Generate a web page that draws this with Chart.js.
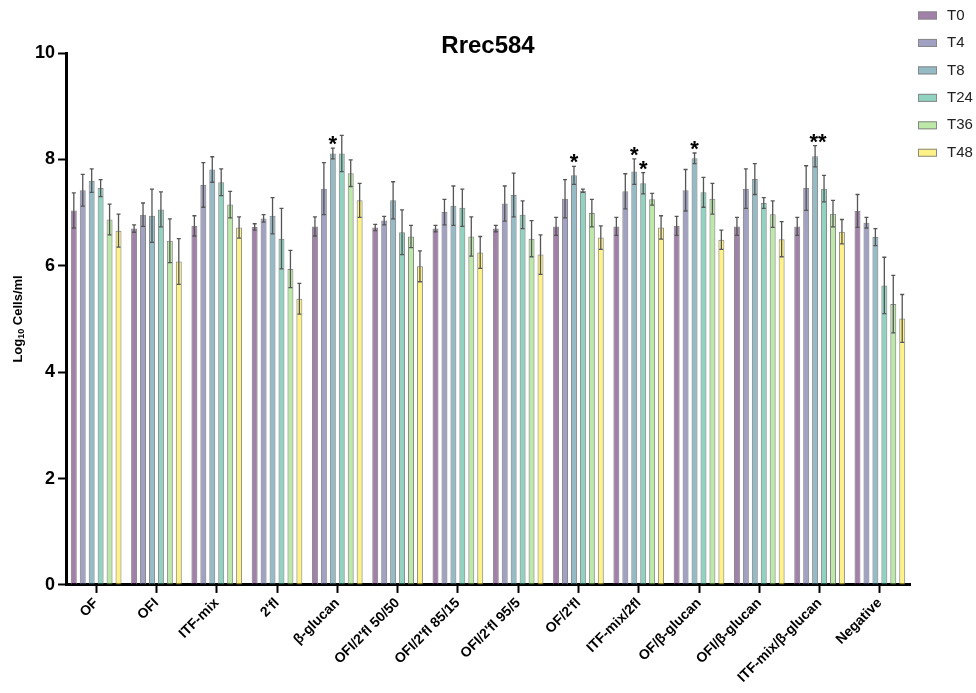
<!DOCTYPE html>
<html>
<head>
<meta charset="utf-8">
<script src="https://cdn.jsdelivr.net/npm/chart.js@4/dist/chart.umd.min.js"></script>
<style>
    body { margin: 0; background: #fff; }
    #wrap { width: 976px; height: 693px; }
</style>
</head>
<body>
<div id="wrap"><canvas id="chart" width="976" height="693"></canvas></div>
<script>
// groups on the x axis
const categories = ['OF', 'OFI', 'ITF-mix', "2'fl", 'β-glucan', "OFI/2'fl 50/50", "OFI/2'fl 85/15",
    "OFI/2'fl 95/5", "OF/2'fl", 'ITF-mix/2fl', 'OF/β-glucan', 'OFI/β-glucan', 'ITF-mix/β-glucan', 'Negative'];

const seriesNames = ['T0', 'T4', 'T8', 'T24', 'T36', 'T48'];

// means (log10 cells/ml)
const t0 = [7.04, 6.70, 6.75, 6.73, 6.74, 6.72, 6.70, 6.70, 6.74, 6.74, 6.75, 6.74, 6.74, 7.03];
const t4 = [7.42, 6.96, 7.52, 6.89, 7.45, 6.85, 7.01, 7.17, 7.26, 7.40, 7.42, 7.45, 7.46, 6.81];
const t8 = [7.60, 6.94, 7.81, 6.94, 8.11, 7.23, 7.13, 7.33, 7.70, 7.77, 8.02, 7.63, 8.06, 6.54];
const t24 = [7.46, 7.06, 7.57, 6.51, 8.11, 6.63, 7.09, 6.96, 7.41, 7.55, 7.38, 7.18, 7.45, 5.63];
const t36 = [6.87, 6.47, 7.15, 5.94, 7.74, 6.55, 6.55, 6.51, 6.99, 7.25, 7.26, 6.97, 6.98, 5.28];
const t48 = [6.66, 6.08, 6.72, 5.38, 7.23, 5.99, 6.25, 6.21, 6.53, 6.72, 6.49, 6.50, 6.64, 5.01];

// error bars (+/-)
const t0Err = [0.33, 0.07, 0.19, 0.06, 0.18, 0.06, 0.06, 0.06, 0.17, 0.17, 0.18, 0.17, 0.17, 0.31];
const t4Err = [0.30, 0.22, 0.42, 0.07, 0.49, 0.08, 0.24, 0.33, 0.36, 0.33, 0.39, 0.37, 0.42, 0.10];
const t8Err = [0.22, 0.50, 0.24, 0.34, 0.10, 0.35, 0.37, 0.41, 0.17, 0.24, 0.10, 0.29, 0.20, 0.16];
const t24Err = [0.16, 0.33, 0.25, 0.57, 0.34, 0.42, 0.35, 0.26, 0.03, 0.20, 0.28, 0.10, 0.25, 0.53];
const t36Err = [0.29, 0.41, 0.25, 0.35, 0.25, 0.21, 0.37, 0.34, 0.26, 0.11, 0.29, 0.25, 0.25, 0.54];
const t48Err = [0.31, 0.43, 0.20, 0.29, 0.32, 0.29, 0.30, 0.37, 0.22, 0.22, 0.18, 0.33, 0.23, 0.45];

// significance marks: [group index, series index, text]
const stars = [[4, 2, '*'], [8, 2, '*'], [9, 2, '*'], [9, 3, '*'], [10, 2, '*'], [12, 2, '**']];

const yTicks = [0, 2, 4, 6, 8, 10];

const means = [t0, t4, t8, t24, t36, t48];
const errs = [t0Err, t4Err, t8Err, t24Err, t36Err, t48Err];
const colors = ['rgba(68,1,84,0.5)', 'rgba(65,68,135,0.5)', 'rgba(42,120,142,0.5)',
    'rgba(34,168,132,0.5)', 'rgba(122,209,81,0.5)', 'rgba(253,231,37,0.55)'];

const FONT = 'Arial, "Liberation Sans", sans-serif';

const errorBars = {
    id: 'errorBars',
    afterDatasetsDraw(chart) {
        const ctx = chart.ctx;
        const y = chart.scales.y;
        ctx.save();
        ctx.strokeStyle = '#555';
        ctx.lineWidth = 1.3;
        chart.data.datasets.forEach((ds, i) => {
            chart.getDatasetMeta(i).data.forEach((bar, j) => {
                const v = ds.data[j], e = errs[i][j];
                const top = y.getPixelForValue(v + e), bot = y.getPixelForValue(v - e);
                ctx.beginPath();
                ctx.moveTo(bar.x, top); ctx.lineTo(bar.x, bot);
                ctx.moveTo(bar.x - 2, top); ctx.lineTo(bar.x + 2, top);
                ctx.moveTo(bar.x - 2, bot); ctx.lineTo(bar.x + 2, bot);
                ctx.stroke();
            });
        });
        // stars
        ctx.fillStyle = '#000';
        ctx.font = 'bold 22px ' + FONT;
        ctx.textAlign = 'center';
        ctx.textBaseline = 'alphabetic';
        stars.forEach(s => {
            const bar = chart.getDatasetMeta(s[1]).data[s[0]];
            const top = y.getPixelForValue(means[s[1]][s[0]] + errs[s[1]][s[0]]);
            const dx = s[2].length > 1 ? 3 : 0;
            ctx.fillText(s[2], bar.x + dx, top + 3);
        });
        ctx.restore();
    }
};

const decorations = {
    id: 'decorations',
    afterDraw(chart) {
        const ctx = chart.ctx;
        const area = chart.chartArea;
        ctx.save();
        // title
        ctx.fillStyle = '#000';
        ctx.font = 'bold 24px ' + FONT;
        ctx.textAlign = 'center';
        ctx.textBaseline = 'middle';
        ctx.fillText('Rrec584', (area.left + area.right) / 2, 46);

        // y axis title with subscript
        ctx.translate(18, (area.top + area.bottom) / 2);
        ctx.rotate(-Math.PI / 2);
        ctx.textAlign = 'left';
        ctx.textBaseline = 'middle';
        const big = 'bold 13px ' + FONT, small = 'bold 9px ' + FONT;
        ctx.font = big; const w1 = ctx.measureText('Log').width;
        ctx.font = small; const w2 = ctx.measureText('10').width;
        ctx.font = big; const w3 = ctx.measureText(' Cells/ml').width;
        let x = -(w1 + w2 + w3) / 2;
        ctx.fillText('Log', x, 0); x += w1;
        ctx.font = small; ctx.fillText('10', x, 4); x += w2;
        ctx.font = big; ctx.fillText(' Cells/ml', x, 0);
        ctx.restore();

        // legend
        ctx.save();
        ctx.font = '15px ' + FONT;
        ctx.textBaseline = 'middle';
        ctx.textAlign = 'left';
        seriesNames.forEach((name, i) => {
            const cy = 15.5 + i * 27.45;
            ctx.fillStyle = colors[i];
            ctx.fillRect(918, cy - 4, 19, 8);
            ctx.strokeStyle = '#888';
            ctx.lineWidth = 1;
            ctx.strokeRect(918.5, cy - 3.5, 18, 7);
            ctx.fillStyle = '#222';
            ctx.fillText(name, 947, cy);
        });
        ctx.restore();
    }
};

new Chart(document.getElementById('chart'), {
    type: 'bar',
    data: {
        labels: categories,
        datasets: seriesNames.map((name, i) => ({
            label: name,
            data: means[i],
            backgroundColor: colors[i],
            borderColor: 'rgba(110,110,110,0.8)',
            borderWidth: 1,
            categoryPercentage: 0.89,
            barPercentage: 0.67
        }))
    },
    options: {
        responsive: false,
        animation: false,
        devicePixelRatio: 1,
        layout: { padding: { top: 53, left: 32, right: 66, bottom: 5 } },
        plugins: {
            legend: { display: false },
            title: { display: false },
            tooltip: { enabled: false }
        },
        scales: {
            x: {
                ticks: {
                    maxRotation: 45, minRotation: 45, color: '#000', padding: 2,
                    font: { family: FONT, size: 14, weight: 'bold' }
                },
                grid: { offset: false, drawOnChartArea: false, tickLength: 8, tickWidth: 2, tickColor: '#000' },
                border: { width: 3, color: '#000' }
            },
            y: {
                min: 0, max: 10,
                afterBuildTicks: axis => { axis.ticks = yTicks.map(v => ({ value: v })); },
                ticks: { color: '#000', padding: 3, font: { family: FONT, size: 18, weight: 'bold' } },
                grid: { drawOnChartArea: false, tickLength: 8, tickWidth: 2, tickColor: '#000' },
                border: { width: 3, color: '#000' }
            }
        }
    },
    plugins: [errorBars, decorations]
});
</script>
</body>
</html>
